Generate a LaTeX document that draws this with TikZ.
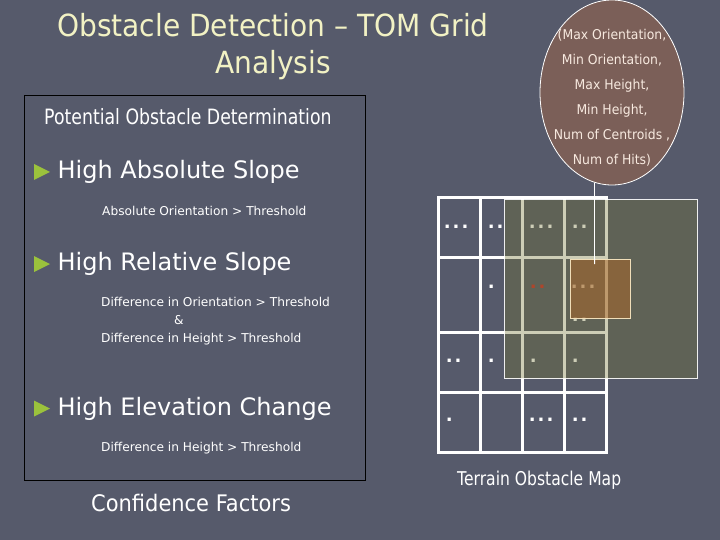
\documentclass[tikz,border=0pt]{standalone}
\usepackage{fontspec}
\setmainfont{DejaVu Sans}
\newfontfamily\headfont{DejaVu Sans}[FakeStretch=0.92]
\newfontfamily\narrowfont{DejaVu Sans}[FakeStretch=0.82]
\usetikzlibrary{positioning, calc, shapes.geometric}

\definecolor{slidebg}{HTML}{565A6B}
\definecolor{titleyellow}{HTML}{F2F2C4}
\definecolor{bulletgreen}{HTML}{9BC23C}
\definecolor{ovalbrown}{HTML}{7B5F58}
\definecolor{ovaltext}{HTML}{F7E9DF}
\definecolor{olivewash}{RGB}{112,113,47}
\definecolor{orangewash}{RGB}{175,102,38}
\definecolor{hitred}{HTML}{D0302A}
\definecolor{cellrim}{RGB}{240,222,185}

\newcommand{\gap}{\kern2.1pt}
\newcommand{\onedot}{.}
\newcommand{\twodots}{.\gap.}
\newcommand{\threedots}{.\gap.\gap.}

\tikzset{
  heading/.style={anchor=base, inner sep=0pt, text=titleyellow, font=\headfont\fontsize{30.5}{30.5}\selectfont},
  item/.style={anchor=base west, inner sep=0pt, text=white, font=\fontsize{24}{24}\selectfont},
  rule/.style={anchor=base west, inner sep=0pt, text=white, font=\fontsize{12.2}{12.2}\selectfont},
  bullet/.style={fill=bulletgreen},
  gridline/.style={white, line width=3pt},
  cellmark/.style={anchor=base west, inner sep=0pt, text=white, font=\bfseries\fontsize{18}{18}\selectfont},
  ovalline/.style={anchor=base, inner sep=0pt, text=ovaltext, font=\headfont\fontsize{13.5}{13.5}\selectfont},
}

\begin{document}
\begin{tikzpicture}[x=1pt, y=-1pt]
\fill[slidebg] (0,0) rectangle (720,540);
\useasboundingbox (0,0) rectangle (720,540);

% Title
\node[heading] (title1) at (273,37) {Obstacle Detection – TOM Grid};
\node[heading] (title2) at (273,74) {Analysis};

% Determination box
\draw[black, line width=1pt] (24,96) rectangle (365,480);
\node[anchor=base west, inner sep=0pt, text=white, font=\narrowfont\fontsize{21.1}{21.1}\selectfont] (potential) at (44,125) {Potential Obstacle Determination};

\foreach \y in {178.5,270.5,415} {
    \fill[bullet] (34,\y-14.5) -- (50,\y-6.5) -- (34,\y+1.5) -- cycle;
}
\node[item] (absslope) at (57.5,178.5) {High Absolute Slope};
\node[item] (relslope) at (57.5,270.5) {High Relative Slope};
\node[item] (elevation) at (57.5,415) {High Elevation Change};

\node[rule] (absrule) at (102,215.7) {Absolute Orientation > Threshold};
\node[rule] (orirule) at (101,306.7) {Difference in Orientation > Threshold};
\node[rule] (andrule) at (174,324.7) {\&};
\node[rule] (hgtrule) at (101,342.7) {Difference in Height > Threshold};
\node[rule] (elvrule) at (101,451.7) {Difference in Height > Threshold};

\node[anchor=base west, inner sep=0pt, text=white, font=\headfont\fontsize{22.8}{22.8}\selectfont] (confidence) at (91,511.7) {Confidence Factors};

% TOM grid
\draw[gridline] (438,198) rectangle (606,452);
\foreach \x in {480,522,564} \draw[gridline] (\x,198) -- (\x,452);
\foreach \y in {257,332,392} \draw[gridline] (438,\y) -- (606,\y);

% cell contents
\foreach \x/\y/\n in {447/227/\threedots, 491/227/\twodots, 532/227/\threedots, 575/227/\twodots,
                      491/287/\onedot, 574/287/\threedots, 575/320/\twodots,
                      449/361/\twodots, 491/361/\onedot, 533/361/\onedot, 575/361/\onedot,
                      449/420/\onedot, 532/420/\threedots, 575/420/\twodots} {
    \node[cellmark] (m-\x-\y) at (\x-3.4,\y+1.5) {\n};
}
\node[cellmark, text=hitred] (m-red) at (533-3.4,288.5) {\twodots};

% neighbourhood window and selected cell
\node[draw=white, line width=1.2pt, fill=olivewash, fill opacity=0.35, draw opacity=0.9,
      minimum width=193pt, minimum height=179pt, inner sep=0pt, anchor=north west] (window) at (504,199) {};
\node[draw=cellrim, line width=1pt, fill=orangewash, fill opacity=0.5,
      minimum width=60pt, minimum height=59pt, inner sep=0pt, anchor=north west] (cell) at (570,259) {};

% attribute oval
\node[ellipse, draw=white, line width=0.8pt, fill=ovalbrown, minimum width=144pt, minimum height=185pt, inner sep=0pt] (attrs) at (612,92.5) {};
\foreach \t [count=\i] in {{(Max Orientation,}, {Min Orientation,}, {Max Height,}, {Min Height,}, {Num of Centroids ,}, {Num of Hits)}} {
    \node[ovalline] (attr\i) at (612,14.5+25*\i) {\t};
}
\coordinate (hit) at (594.6,264);
\draw[white, line width=0.8pt] (attrs.-101) -- (hit);

\node[anchor=base west, inner sep=0pt, text=white, font=\narrowfont\fontsize{19}{19}\selectfont] (mapcaption) at (457,485) {Terrain Obstacle Map};
\end{tikzpicture}
\end{document}
